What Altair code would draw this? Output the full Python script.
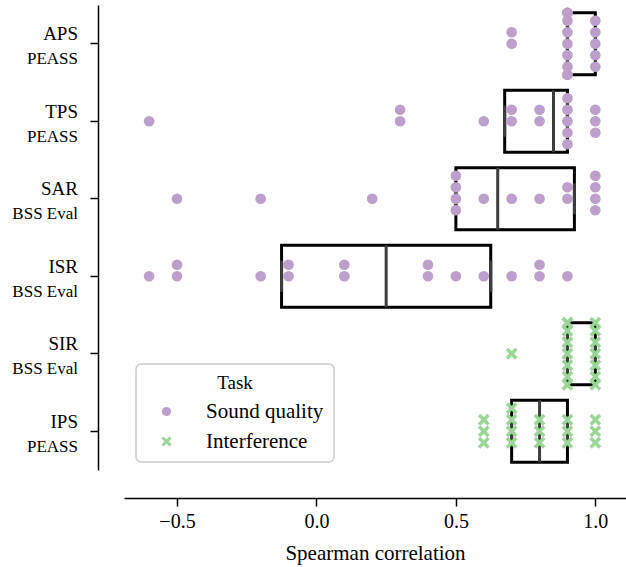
import altair as alt
import numpy as np
import pandas as pd

# ---- data ----
metrics = ["APS", "TPS", "SAR", "ISR", "SIR", "IPS"]
sources = ["PEASS", "PEASS", "BSS Eval", "BSS Eval", "BSS Eval", "PEASS"]
tasks = ["Sound quality", "Sound quality", "Sound quality", "Sound quality",
         "Interference", "Interference"]

APS = [0.7, 0.7, 0.9, 0.9, 0.9, 0.9, 0.9, 0.9, 0.9, 0.9, 0.9, 1.0, 1.0, 1.0, 1.0, 1.0]
TPS = [-0.6, 0.3, 0.3, 0.6, 0.7, 0.7, 0.8, 0.8, 0.9, 0.9, 0.9, 0.9, 0.9, 1.0, 1.0, 1.0]
SAR = [-0.5, -0.2, 0.2, 0.5, 0.5, 0.5, 0.5, 0.6, 0.7, 0.8, 0.9, 0.9, 1.0, 1.0, 1.0, 1.0]
ISR = [-0.6, -0.5, -0.5, -0.2, -0.1, -0.1, 0.1, 0.1, 0.4, 0.4, 0.5, 0.6, 0.7, 0.8, 0.8, 0.9]
SIR = [0.7, 0.9, 0.9, 0.9, 0.9, 0.9, 0.9, 0.9, 0.9, 1.0, 1.0, 1.0, 1.0, 1.0, 1.0, 1.0]
IPS = [0.6, 0.6, 0.6, 0.7, 0.7, 0.7, 0.7, 0.8, 0.8, 0.8, 0.9, 0.9, 0.9, 1.0, 1.0, 1.0]
series = [APS, TPS, SAR, ISR, SIR, IPS]

task_order = ["Sound quality", "Interference"]
task_colors = ["#bd9fcc", "#9ad597"]
x_shape = ("M-1.1,-0.65L-0.65,-1.1L0,-0.45L0.65,-1.1L1.1,-0.65L0.45,0L1.1,0.65"
           "L0.65,1.1L0,0.45L-0.65,1.1L-1.1,0.65L-0.45,0Z")

# ---- layout constants ----
HEIGHT = 465
BAND = HEIGHT / len(metrics)
SPACING = 11.5
LIMIT = 31

# ---- swarm offsets (pixels, from band start) and box statistics ----
rows, boxes, labels = [], [], []
for m, s, t, vals in zip(metrics, sources, tasks, series):
    counts = {}
    for v in vals:
        k = counts.get(v, 0)
        counts[v] = k + 1
        step = (k + 1) // 2
        sign = -1 if k % 2 == 1 else 1
        off = float(np.clip(sign * step * SPACING, -LIMIT, LIMIT)) + BAND / 2
        rows.append({"metric": m, "task": t, "value": v, "off": off})
    q1, med, q3 = np.percentile(vals, [25, 50, 75])
    boxes.append({"metric": m, "q1": q1, "med": med, "q3": q3})
    labels.append({"metric": m, "main": m, "sub": s})

pts = pd.DataFrame(rows)
box_df = pd.DataFrame(boxes)
lab_df = pd.DataFrame(labels)

FONT = "Liberation Serif"
xscale = alt.Scale(domain=[-0.69, 1.11], nice=False, zero=False)
yenc = alt.Y("metric:N", sort=metrics,
             scale=alt.Scale(paddingInner=0, paddingOuter=0),
             axis=alt.Axis(labels=False, title=None, offset=26, tickSize=8,
                           domainColor="black", tickColor="black",
                           domainWidth=1.5, tickWidth=1.5))
xaxis = alt.Axis(values=[-0.5, 0, 0.5, 1.0], format=".1f", offset=28,
                 tickSize=8, labelPadding=5, title="Spearman correlation",
                 titlePadding=11, domainColor="black", tickColor="black",
                 domainWidth=1.5, tickWidth=1.5, labelFlush=False)

box = alt.Chart(box_df).mark_bar(size=62, fill="white", fillOpacity=0,
                                 stroke="black", strokeWidth=3).encode(
    x=alt.X("q1:Q", scale=xscale, axis=xaxis), x2="q3:Q", y=yenc)

GRAY = "#3d3d3d"
median = alt.Chart(box_df).mark_tick(orient="vertical", size=62, thickness=3,
                                     color=GRAY, opacity=1).encode(
    x=alt.X("med:Q", scale=xscale), y=yenc)
cap1 = alt.Chart(box_df).mark_tick(orient="vertical", size=31, thickness=3,
                                   color=GRAY, opacity=1).encode(
    x=alt.X("q1:Q", scale=xscale), y=yenc)
cap3 = alt.Chart(box_df).mark_tick(orient="vertical", size=31, thickness=3,
                                   color=GRAY, opacity=1).encode(
    x=alt.X("q3:Q", scale=xscale), y=yenc)

points = alt.Chart(pts).mark_point(filled=True, size=115, opacity=1).encode(
    x=alt.X("value:Q", scale=xscale),
    y=yenc,
    yOffset=alt.YOffset("off:Q", scale=None),
    color=alt.Color("task:N", title="Task",
                    scale=alt.Scale(domain=task_order, range=task_colors)),
    shape=alt.Shape("task:N", title="Task",
                    scale=alt.Scale(domain=task_order, range=["circle", x_shape])),
)

main_lab = alt.Chart(lab_df).mark_text(align="right", baseline="alphabetic",
                                       font=FONT, fontSize=19, dy=-3.5,
                                       color="black").encode(
    x=alt.value(-46), y=yenc, text="main:N")
sub_lab = alt.Chart(lab_df).mark_text(align="right", baseline="alphabetic",
                                      font=FONT, fontSize=17, dy=20.5,
                                      color="black").encode(
    x=alt.value(-46), y=yenc, text="sub:N")

chart = alt.layer(box, median, cap1, cap3, points, main_lab, sub_lab).properties(
    width=502, height=HEIGHT,
    autosize=alt.AutoSizeParams(type="none"),
    padding={"left": 124, "top": 5, "right": 0, "bottom": 97},
).configure_view(stroke=None).configure_axis(
    labelFont=FONT, labelFontSize=20, labelColor="black",
    titleFont=FONT, titleFontSize=21, titleFontWeight="normal", titleColor="black",
    grid=False,
).configure_legend(
    orient="none", legendX=12, legendY=359,
    fillColor="white", strokeColor="#cccccc", strokeWidth=1.5, cornerRadius=5,
    padding=10, symbolOffset=10, labelOffset=29, titleAnchor="middle",
    titleFont=FONT, titleFontSize=19, titleFontWeight="normal", titleColor="black",
    labelFont=FONT, labelFontSize=21, labelColor="black",
    symbolSize=85, symbolStrokeWidth=0, rowPadding=8, titlePadding=8,
)

chart.save("out.html", embed_options={"renderer": "svg", "actions": False})
